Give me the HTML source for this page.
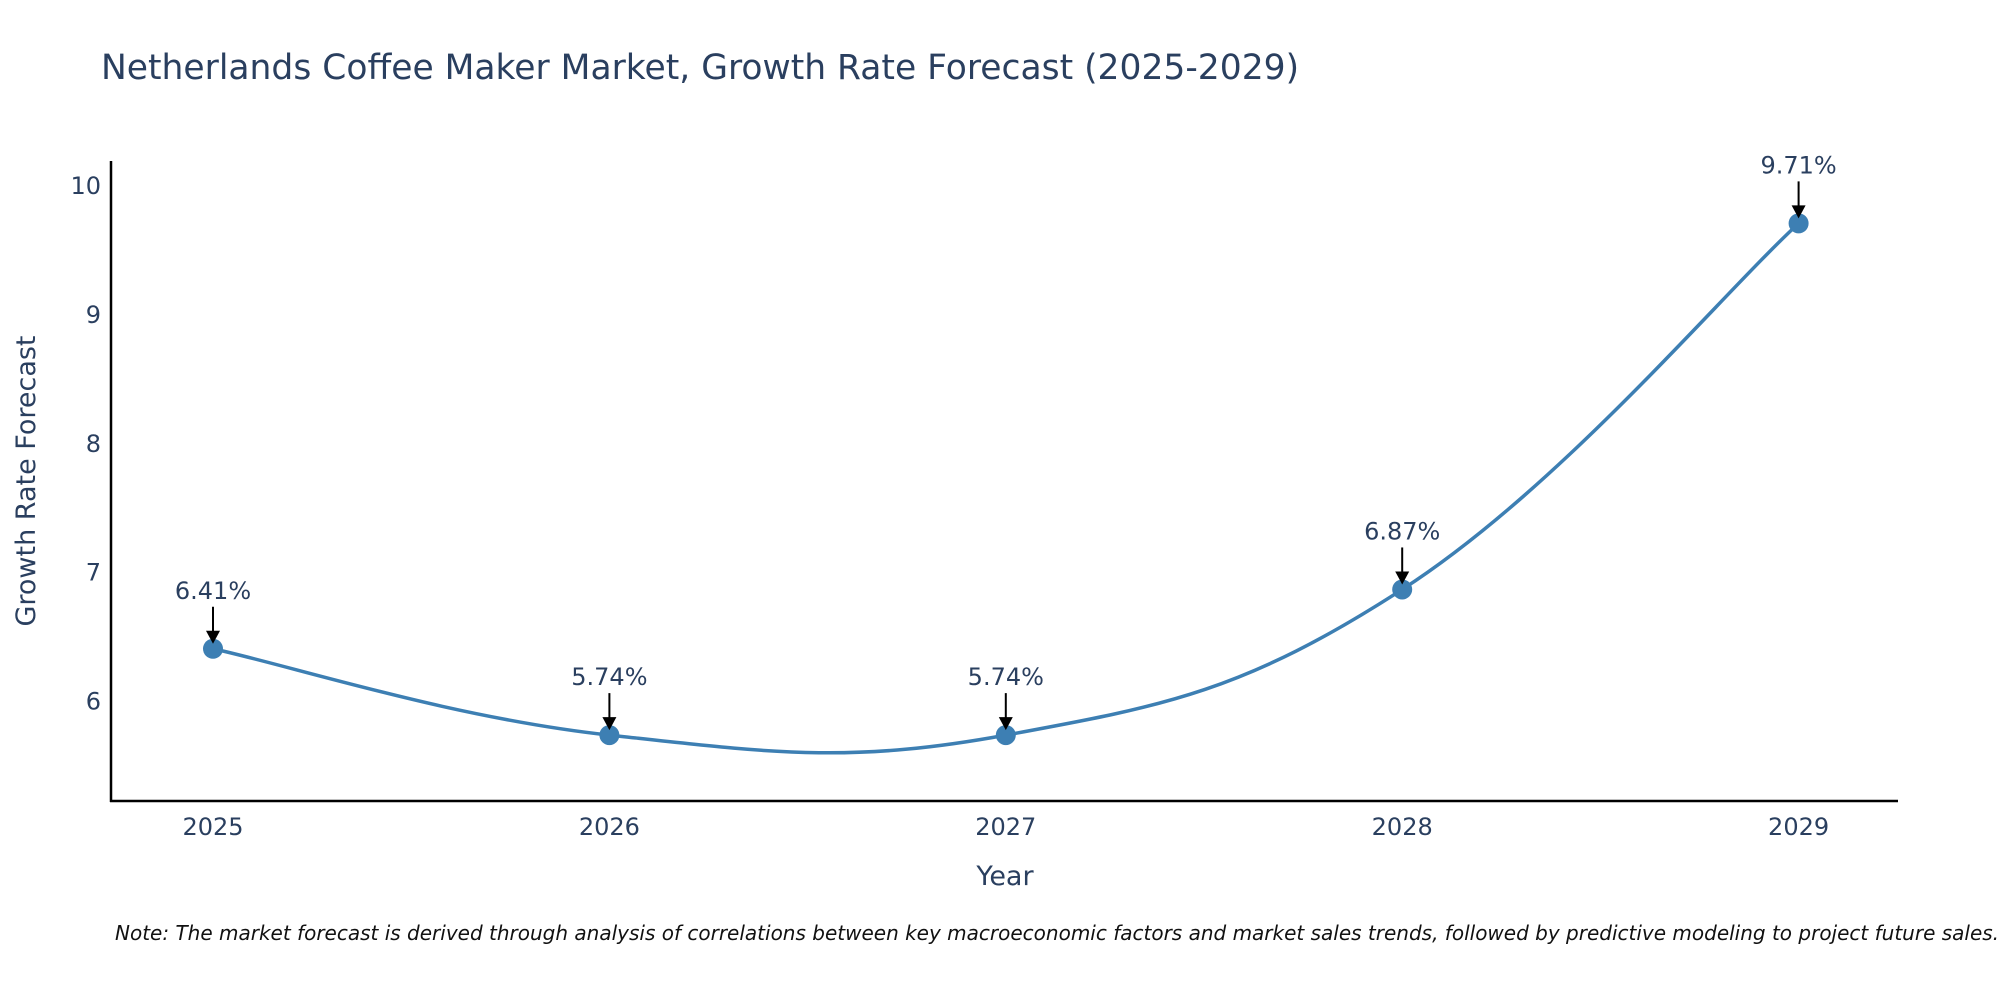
<!DOCTYPE html>
<html><head><meta charset="utf-8"><style>
body{margin:0;background:#fff;width:2000px;height:1000px;overflow:hidden;font-family:"DejaVu Sans",sans-serif}
svg text{font-family:"DejaVu Sans",sans-serif}
</style></head><body>
<svg id="chart" width="2000" height="1000" xmlns="http://www.w3.org/2000/svg">
<text x="101" y="79" font-size="34.5" fill="#2a3f5f">Netherlands Coffee Maker Market, Growth Rate Forecast (2025-2029)</text>
<g id="yticks"></g><g id="xticks"></g>
<line x1="111" y1="161" x2="111" y2="802" stroke="#000" stroke-width="2.5"/>
<line x1="110" y1="801" x2="1898" y2="801" stroke="#000" stroke-width="2.5"/>
<path id="line" fill="none" stroke="#3d7fb3" stroke-width="3.5"/>
<g id="points"></g><g id="annots"></g>
<text transform="translate(35,481) rotate(-90)" text-anchor="middle" font-size="27" fill="#2a3f5f">Growth Rate Forecast</text>
<text x="1005" y="885" text-anchor="middle" font-size="27" fill="#2a3f5f">Year</text>
<text x="115" y="940" font-size="20" font-style="italic" fill="#111">Note: The market forecast is derived through analysis of correlations between key macroeconomic factors and market sales trends, followed by predictive modeling to project future sales.</text>
</svg>
<script>
const years=[2025,2026,2027,2028,2029];
const values=[6.41,5.74,5.74,6.87,9.71];
const labels=["6.41%","5.74%","5.74%","6.87%","9.71%"];
const yTicks=[6,7,8,9,10];
const NS="http://www.w3.org/2000/svg";
const x=v=>213+(v-2025)*396.4;
const y=v=>701.6-(v-6)*128.9;
function mk(t,a,p){const e=document.createElementNS(NS,t);for(const k in a)e.setAttribute(k,a[k]);p.appendChild(e);return e;}
const yt=document.getElementById('yticks');
yTicks.forEach(t=>{const e=mk('text',{x:101,y:y(t)+8,'text-anchor':'end','font-size':24,fill:'#2a3f5f'},yt);

e.textContent=t;});
const xt=document.getElementById('xticks');
years.forEach(t=>{const e=mk('text',{x:x(t),y:835,'text-anchor':'middle','font-size':24,fill:'#2a3f5f'},xt);

e.textContent=t;});
const P=years.map((yr,i)=>[x(yr),y(values[i])]);
let d=`M${P[0][0]},${P[0][1]}`;const s=0.2;
for(let i=0;i<P.length-1;i++){const p0=P[Math.max(0,i-1)],p1=P[i],p2=P[i+1],p3=P[Math.min(P.length-1,i+2)];
const c1=[p1[0]+(p2[0]-p0[0])*s,p1[1]+(p2[1]-p0[1])*s],c2=[p2[0]-(p3[0]-p1[0])*s,p2[1]-(p3[1]-p1[1])*s];
d+=` C${c1[0]},${c1[1]} ${c2[0]},${c2[1]} ${p2[0]},${p2[1]}`;}
document.getElementById('line').setAttribute('d',d);
const pg=document.getElementById('points'),ag=document.getElementById('annots');
P.forEach((p,i)=>{const c=mk('circle',{cx:p[0],cy:p[1],r:10,fill:'#3d7fb3'},pg);


const l=mk('line',{x1:p[0],y1:p[1]-42,x2:p[0],y2:p[1]-14,stroke:'#000','stroke-width':2},ag);


const h=mk('polygon',{points:`${p[0]-7},${p[1]-18} ${p[0]+7},${p[1]-18} ${p[0]},${p[1]-5}`,fill:'#000'},ag);


const t=mk('text',{x:p[0],y:p[1]-50,'text-anchor':'middle','font-size':24,fill:'#2a3f5f'},ag);

t.textContent=labels[i];});
</script>
</body></html>
